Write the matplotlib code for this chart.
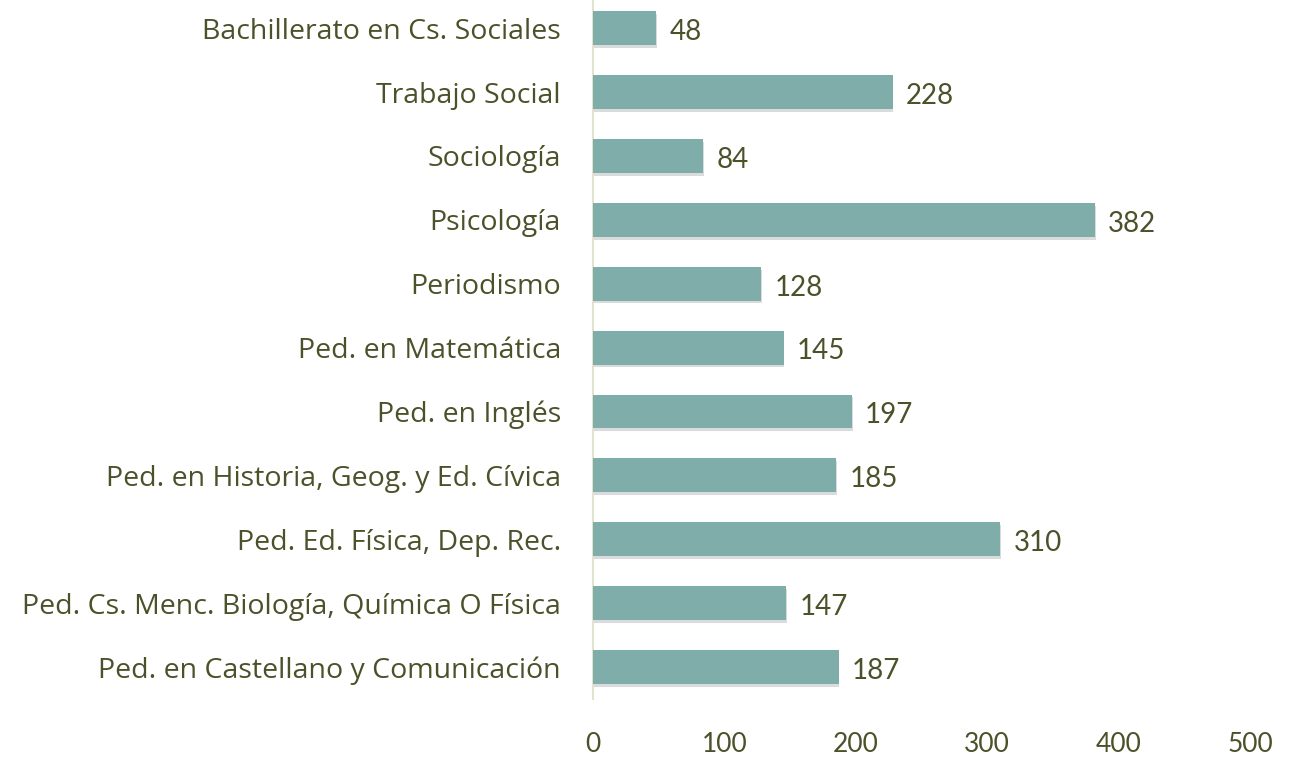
import matplotlib.pyplot as plt
import matplotlib.patheffects as pe

# Data (top to bottom as shown in the chart)
carreras = [
    'Bachillerato en Cs. Sociales',
    'Trabajo Social',
    'Sociología',
    'Psicología',
    'Periodismo',
    'Ped. en Matemática',
    'Ped. en Inglés',
    'Ped. en Historia, Geog. y Ed. Cívica',
    'Ped. Ed. Física, Dep. Rec.',
    'Ped. Cs. Menc. Biología, Química O Física',
    'Ped. en Castellano y Comunicación',
]
valores = [48, 228, 84, 382, 128, 145, 197, 185, 310, 147, 187]
xticks = [0, 100, 200, 300, 400, 500]

text_color = '#4a5229'
bar_color = '#7fadaa'

plt.rcParams['font.family'] = ['Open Sans', 'DejaVu Sans']

fig = plt.figure(figsize=(12.96, 7.57), dpi=100)
ax = fig.add_axes([593 / 1296, 58 / 757, (1250 - 593) / 1296, 699 / 757])

# Reverse so the first item appears at the top
pos = list(range(len(carreras)))[::-1]
bars = ax.barh(pos, valores, height=0.53, color=bar_color, zorder=3)
for b in bars:
    b.set_path_effects([pe.SimplePatchShadow(offset=(0.5, -2), shadow_rgbFace='#b0b0b0', alpha=0.45),
                        pe.Normal()])

for p, v in zip(pos, valores):
    ax.text(v + 10, p - 0.06, str(v), va='center', ha='left', fontsize=20,
            color=text_color, family=['Lato', 'DejaVu Sans'])

ax.set_xlim(0, 500)
ax.set_ylim(-0.5, 10.44)
ax.set_yticks(pos)
ax.set_yticklabels(carreras, fontsize=20.5, color=text_color)
ax.set_xticks(xticks)
ax.set_xticklabels([str(t) for t in xticks], fontsize=19, color=text_color,
                   family=['Lato', 'DejaVu Sans'])
ax.tick_params(axis='y', length=0, pad=23)
ax.tick_params(axis='x', length=0, pad=24)

for s in ['top', 'right', 'bottom']:
    ax.spines[s].set_visible(False)
ax.spines['left'].set_color('#e2e2cf')
ax.spines['left'].set_linewidth(1.5)

fig.savefig('out.png', dpi=100)
